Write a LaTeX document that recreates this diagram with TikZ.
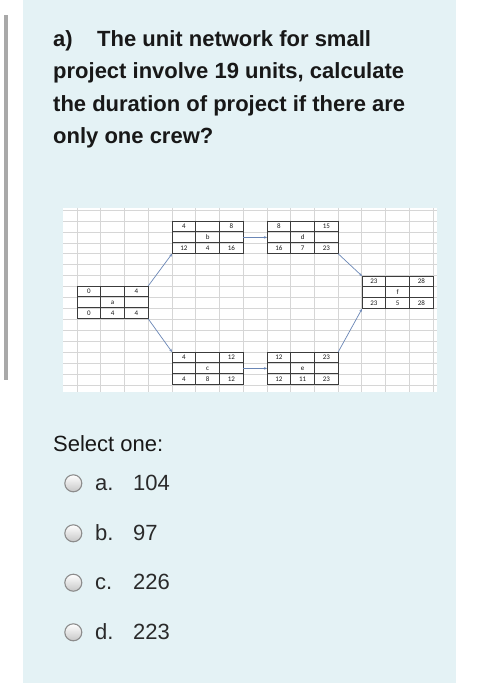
\documentclass[tikz,border=0pt]{standalone}
\usepackage{fontspec}
\setmainfont{Liberation Sans}
\newfontfamily\cellfont{Carlito}
\usetikzlibrary{arrows.meta}
\definecolor{panel}{HTML}{E4F2F5}
\definecolor{barg}{HTML}{A9A9A9}
\definecolor{gridc}{HTML}{D6D6D6}
\definecolor{boxline}{HTML}{3C3C3C}
\definecolor{arrowc}{HTML}{6A86B6}
\definecolor{txt}{HTML}{181818}
\definecolor{opttxt}{HTML}{2A2A2A}
\tikzset{
  titletext/.style={anchor=base west, inner sep=0pt, text=txt, font=\fontsize{22}{26}\selectfont\bfseries},
  bodytext/.style={anchor=base west, inner sep=0pt, text=opttxt, font=\fontsize{22}{26}\selectfont},
  gridline/.style={draw=gridc, line width=0.6pt},
  boxframe/.style={rectangle, draw=boxline, line width=0.9pt, anchor=north west,
    minimum width=71.19pt, minimum height=32.79pt, inner sep=0pt, outer sep=0pt},
  boxinner/.style={draw=boxline, line width=0.9pt},
  celltext/.style={inner sep=0pt, text height=4.6pt, text depth=0.1pt,
    font=\cellfont\fontsize{7}{8}\selectfont, text=black!90},
  conn/.style={draw=arrowc, line width=0.7pt, -{Stealth[length=3pt,width=2.6pt]}},
  radio/.style={circle, draw=black!45, line width=1.1pt, minimum size=17pt, inner sep=0pt,
    top color=white, bottom color=black!22}
}
% name, x, y, top-left, top-right, middle, bottom-left, bottom-middle, bottom-right
\newcommand\actbox[9]{%
  \node[boxframe] (#1) at (#2,#3) {};
  \foreach \k in {1,2} {
    \draw[boxinner] ({#2+23.73*\k},#3) -- ({#2+23.73*\k},{#3+32.79});
    \draw[boxinner] (#2,{#3+10.93*\k}) -- ({#2+71.19},{#3+10.93*\k});
  }
  \node[celltext] (#1-tl) at ({#2+11.87},{#3+5.47}) {#4};
  \node[celltext] (#1-tr) at ({#2+59.32},{#3+5.47}) {#5};
  \node[celltext] (#1-mm) at ({#2+35.6},{#3+16.4}) {#6};
  \node[celltext] (#1-bl) at ({#2+11.87},{#3+27.33}) {#7};
  \node[celltext] (#1-bm) at ({#2+35.6},{#3+27.33}) {#8};
  \node[celltext] (#1-br) at ({#2+59.32},{#3+27.33}) {#9};
}
\begin{document}
\begin{tikzpicture}[x=1pt,y=-1pt]
\useasboundingbox (0,0) rectangle (479,700);
\fill[white] (0,0) rectangle (479,700);
\fill[panel] (23,0) rectangle (456,683);
\fill[barg] (4,15) rectangle (8,380);

% title
\node[titletext] (t1a) at (53,47) {a)};
\node[titletext] (t1b) at (97,47) {The unit network for small};
\node[titletext] (t2) at (53,79) {project involve 19 units, calculate};
\node[titletext] (t3) at (53,111.5) {the duration of project if there are};
\node[titletext] (t4) at (53,144) {only one crew?};

% spreadsheet picture
\fill[white] (63,208) rectangle (437,392);
\foreach \i in {0,...,15} \draw[gridline] ({77+23.73*\i},208) -- ({77+23.73*\i},392);
\foreach \j in {-1,...,15} \draw[gridline] (63,{221+10.93*\j}) -- (437,{221+10.93*\j});

\actbox{a}{77}{286}{0}{4}{a}{0}{4}{4}
\actbox{b}{172}{221}{4}{8}{b}{12}{4}{16}
\actbox{c}{172}{352}{4}{12}{c}{4}{8}{12}
\actbox{d}{267}{221}{8}{15}{d}{16}{7}{23}
\actbox{e}{267}{352}{12}{23}{e}{12}{11}{23}
\actbox{f}{362}{276}{23}{28}{f}{23}{5}{28}

\draw[conn] (a.north east) -- (b.south west);
\draw[conn] (a.south east) -- (c.north west);
\draw[conn] (b.east) -- (d.west);
\draw[conn] (c.east) -- (e.west);
\draw[conn] (d.south east) -- (f.north west);
\draw[conn] (e.north east) -- (f.south west);

% answers
\node[bodytext, text=txt] (sel) at (53,451.7) {Select one:};
\node[radio] (ra) at (73.3,483.3) {};
\node[radio] (rb) at (73.3,533.3) {};
\node[radio] (rc) at (73.3,582.7) {};
\node[radio] (rd) at (73.3,632.3) {};
\node[bodytext] (la) at (95,490) {a.};
\node[bodytext] (lb) at (95,540) {b.};
\node[bodytext] (lc) at (95,589.5) {c.};
\node[bodytext] (ld) at (95,639) {d.};
\node[bodytext] (va) at (133,490) {104};
\node[bodytext] (vb) at (133,540) {97};
\node[bodytext] (vc) at (133,589.5) {226};
\node[bodytext] (vd) at (133,639) {223};
\end{tikzpicture}
\end{document}
